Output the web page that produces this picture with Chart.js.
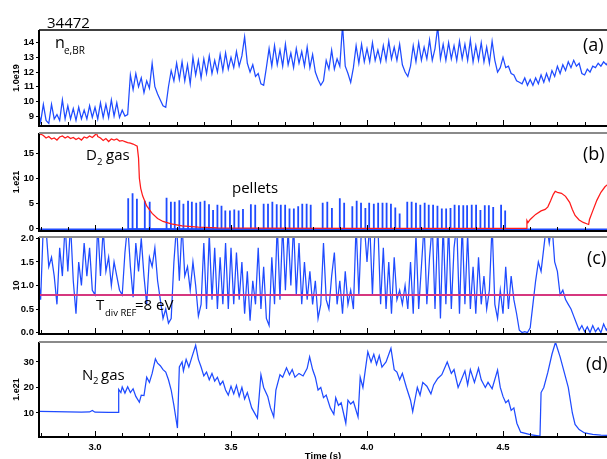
<!DOCTYPE html>
<html>
<head>
<meta charset="utf-8">
<script src="https://cdn.jsdelivr.net/npm/chart.js@4.4.1/dist/chart.umd.min.js"></script>
<style>
  body { margin: 0; background: #fff; width: 607px; height: 459px; overflow: hidden; position: relative; font-family: 'Open Sans', sans-serif; }
  canvas { position: absolute; left: 0; }
  .t { position: absolute; white-space: nowrap; line-height: 1; color: #000; }
</style>
</head>
<body>
<canvas id="pa" width="607" height="114" style="top:20px"></canvas>
<canvas id="pb" width="607" height="114" style="top:125px"></canvas>
<canvas id="pc" width="607" height="113" style="top:229px"></canvas>
<canvas id="pd" width="607" height="127" style="top:334px"></canvas>

<!-- annotations; top = baseline - 0.89 * size -->
<div class="t" style="left:47px;top:15px;font-size:15px">34472</div>
<div class="t" style="left:55px;top:34px;font-size:16px">n</div>
<div class="t" style="left:64px;top:45px;font-size:10px">e,BR</div>
<div class="t" style="left:583px;top:35px;font-size:18px">(a)</div>
<div class="t" style="left:583px;top:144px;font-size:18px">(b)</div>
<div class="t" style="left:587px;top:248px;font-size:18px">(c)</div>
<div class="t" style="left:586px;top:354px;font-size:18px">(d)</div>
<div class="t" style="left:86px;top:147px;font-size:15px">D</div>
<div class="t" style="left:97px;top:157px;font-size:9.5px">2</div>
<div class="t" style="left:106px;top:147px;font-size:15px">gas</div>
<div class="t" style="left:232px;top:180px;font-size:15px">pellets</div>
<div class="t" style="left:96px;top:297px;font-size:15px">T</div>
<div class="t" style="left:105px;top:308px;font-size:9.5px">div REF</div>
<div class="t" style="left:135px;top:297px;font-size:15px">=8 eV</div>
<div class="t" style="left:82px;top:367px;font-size:15px">N</div>
<div class="t" style="left:93px;top:376px;font-size:9.5px">2</div>
<div class="t" style="left:101px;top:367px;font-size:15px">gas</div>

<script>
// ---- data ----
// time axis
const xMin = 2.794, xMax = 4.8824;
const xMinor = [2.8, 2.9, 3.0, 3.1, 3.2, 3.3, 3.4, 3.5, 3.6, 3.7, 3.8, 3.9, 4.0, 4.1, 4.2, 4.3, 4.4, 4.5, 4.6, 4.7, 4.8];
const xLabels = [3.0, 3.5, 4.0, 4.5];
const xTitle = 'Time (s)';

// sampled signals (a) and (c): one value every 10 ms from 2.79 s
const sampleStart = 2.79, sampleStep = 0.01;

// (a) line averaged density, 1e19 m^-3
const neBR = [
  9.4, 8.6, 9.8, 8.7, 8.5, 9.8, 8.8, 9.1, 8.7, 10.1,
  8.8, 9.7, 8.8, 9.5, 8.7, 9.6, 8.8, 9.4, 8.8, 9.7,
  8.9, 9.6, 8.8, 9.9, 8.9, 9.8, 8.9, 10.1, 9.0, 9.9,
  8.9, 9.4, 9.0, 9.1, 11.8, 10.8, 11.9, 11.0, 11.6, 10.6,
  11.4, 10.9, 12.6, 11.0, 10.5, 10.1, 9.7, 9.6, 11.0, 12.1,
  11.4, 12.6, 11.5, 12.7, 11.4, 12.5, 11.2, 13.0, 11.8, 12.8,
  11.6, 12.9, 11.9, 13.1, 11.9, 12.8, 12.0, 13.2, 12.1, 13.3,
  12.2, 13.0, 12.3, 13.4, 12.4, 13.1, 14.4, 12.6, 12.0, 12.5,
  11.7, 11.9, 11.2, 11.1, 12.3, 13.6, 12.4, 13.8, 12.5, 13.5,
  12.4, 13.9, 12.5, 13.3, 12.3, 13.6, 12.6, 13.4, 12.4, 13.7,
  12.3, 13.2, 12.0, 11.5, 11.1, 11.4, 12.8, 12.2, 13.5, 12.2,
  12.9, 12.4, 15.2, 12.4, 11.9, 11.3, 12.3, 13.8, 12.6, 13.9,
  12.7, 13.6, 12.7, 14.0, 12.8, 13.5, 12.7, 13.8, 12.8, 14.1,
  12.9, 13.7, 12.8, 13.9, 12.5, 12.0, 11.7, 12.4, 13.8, 12.7,
  14.0, 12.8, 13.7, 12.9, 14.2, 12.8, 13.6, 15.1, 12.9, 13.9,
  12.8, 14.0, 12.9, 13.8, 12.8, 14.1, 12.9, 13.9, 12.8, 14.2,
  12.7, 13.8, 12.8, 14.0, 12.7, 13.7, 12.6, 14.1, 12.8, 12.0,
  12.3, 13.0, 12.3, 12.4, 11.9, 11.8, 11.4, 11.3, 11.2, 11.6,
  11.1, 11.5, 11.1, 11.6, 11.2, 11.8, 11.3, 11.9, 11.4, 12.1,
  11.7, 12.4, 11.9, 12.5, 12.1, 12.7, 12.3, 12.8, 12.4, 12.6,
  11.9, 11.8, 12.2, 12.0, 12.4, 12.3, 12.6, 12.4, 12.7, 12.5,
  12.8
];

// (b) D2 gas puff, 1e21 el/s
const gasT = [2.79, 2.80, 2.81, 2.82, 2.83, 2.84, 2.85, 2.86, 2.87, 2.88, 2.89, 2.90, 2.91, 2.92, 2.93, 2.94, 2.95, 2.96, 2.97, 2.98, 2.99, 3.00, 3.005, 3.01, 3.02, 3.03, 3.04, 3.05, 3.06, 3.07, 3.08, 3.09, 3.10, 3.11, 3.12, 3.13, 3.14, 3.155, 3.16, 3.163, 3.168, 3.175, 3.19, 3.21, 3.23, 3.25, 3.28, 3.32, 3.38, 3.45, 3.6, 4.0, 4.585, 4.588, 4.592, 4.60, 4.62, 4.64, 4.655, 4.665, 4.675, 4.685, 4.692, 4.70, 4.715, 4.73, 4.745, 4.755, 4.765, 4.78, 4.795, 4.81, 4.815, 4.818, 4.83, 4.845, 4.86, 4.875, 4.89];
const gasV = [18.3, 18.8, 18.5, 18.0, 18.3, 17.8, 18.0, 17.6, 18.2, 18.4, 18.0, 18.3, 17.9, 18.1, 17.7, 18.0, 17.6, 18.2, 18.0, 18.4, 18.1, 18.6, 19.0, 18.3, 18.0, 17.5, 17.9, 17.3, 17.8, 17.6, 17.8, 17.4, 17.5, 17.3, 17.1, 17.0, 16.8, 16.4, 14.0, 10.0, 8.0, 6.5, 4.5, 3.0, 2.0, 1.4, 0.9, 0.5, 0.25, 0.1, 0.05, 0.0, 0.0, 1.6, 1.2, 1.8, 2.8, 3.5, 3.8, 4.3, 5.5, 6.8, 7.4, 7.2, 7.0, 6.4, 5.2, 3.8, 2.6, 1.7, 1.2, 0.9, 0.8, 1.8, 3.5, 5.6, 7.2, 8.3, 9.0];

// (b) pellet signal
const pelletT = [3.122, 3.138, 3.154, 3.183, 3.201, 3.263, 3.279, 3.293, 3.310, 3.325, 3.342, 3.356, 3.372, 3.387, 3.403, 3.419, 3.434, 3.450, 3.465, 3.479, 3.496, 3.512, 3.528, 3.544, 3.573, 3.589, 3.620, 3.636, 3.652, 3.668, 3.683, 3.699, 3.715, 3.731, 3.747, 3.762, 3.778, 3.793, 3.837, 3.854, 3.871, 3.900, 3.916, 3.946, 3.962, 3.978, 3.994, 4.008, 4.025, 4.041, 4.057, 4.072, 4.088, 4.104, 4.120, 4.148, 4.164, 4.180, 4.196, 4.212, 4.227, 4.243, 4.259, 4.275, 4.291, 4.307, 4.322, 4.338, 4.354, 4.368, 4.385, 4.401, 4.417, 4.433, 4.448, 4.464, 4.493, 4.508];
const pelletH = [6.0, 7.0, 5.9, 5.5, 5.3, 6.1, 5.3, 5.3, 5.6, 4.9, 5.5, 5.3, 5.1, 5.3, 5.5, 4.8, 3.7, 4.7, 4.5, 3.6, 3.6, 3.8, 3.6, 3.9, 4.8, 4.7, 4.9, 4.9, 5.3, 4.8, 4.7, 4.7, 4.0, 4.0, 4.4, 4.9, 4.9, 4.7, 5.1, 5.3, 4.1, 6.0, 5.1, 4.4, 5.5, 5.1, 4.1, 5.1, 4.9, 5.1, 5.1, 5.1, 4.9, 4.2, 3.0, 5.3, 5.3, 5.1, 4.7, 5.1, 4.7, 4.7, 4.5, 4.0, 4.0, 4.1, 4.7, 4.6, 4.6, 4.6, 4.7, 4.7, 3.7, 4.6, 4.6, 4.3, 4.7, 3.6];
const pelletBase = -0.15;

// (c) divertor temperature, 10 eV
const tDiv = [
  1.3, 0.7, 2.3, 2.2, 1.4, 1.6, 1.2, 0.6, 1.8, 1.2,
  2.3, 1.3, 2.3, 1.1, 0.4, 1.5, 1.0, 1.9, 1.2, 1.8,
  0.9, 0.8, 2.3, 1.2, 2.2, 1.3, 1.6, 1.0, 1.5, 1.2,
  0.9, 0.8, 1.7, 2.3, 1.4, 0.75, 1.9, 1.3, 2.0, 1.2,
  0.6, 1.6, 1.4, 1.8, 1.1, 0.7, 0.3, 0.5, 0.2, 0.3,
  1.5, 2.3, 1.1, 2.3, 1.2, 1.4, 0.9, 1.5, 1.0, 0.35,
  0.6, 1.9, 0.5, 2.1, 0.7, 1.8, 0.5, 1.6, 0.6, 1.9,
  0.5, 1.8, 0.6, 1.7, 0.7, 1.5, 0.4, 1.3, 0.25, 1.1,
  0.6, 1.8, 0.5, 1.4, 0.3, 0.15, 1.6, 0.6, 2.3, 0.7,
  2.3, 0.9, 2.2, 1.0, 2.3, 0.8, 1.9, 0.6, 1.5, 0.7,
  1.3, 0.6, 1.1, 0.3, 0.6, 1.9, 0.7, 0.5, 1.2, 1.7,
  0.6, 1.1, 0.4, 1.3, 0.6, 0.9, 0.5, 2.3, 0.8, 2.3,
  2.3, 1.5, 2.3, 0.8, 2.3, 2.3, 0.6, 1.8, 0.5, 1.5,
  0.4, 1.6, 0.7, 0.9, 0.6, 1.0, 0.5, 1.5, 0.4, 2.1,
  0.5, 1.4, 2.3, 0.6, 1.6, 2.3, 0.5, 2.3, 0.3, 2.3,
  0.6, 2.3, 0.5, 1.8, 2.3, 0.4, 2.3, 0.6, 2.1, 0.5,
  1.4, 0.4, 1.6, 0.6, 1.2, 0.5, 0.9, 2.3, 0.6, 0.3,
  0.9, 0.4, 1.4, 0.5, 1.2, 0.7, 0.4, 0.05, 0.0, 0.02,
  0.0, 0.1, 0.6, 1.1, 1.5, 1.3, 1.8, 2.3, 1.9, 2.3,
  1.5, 1.3, 0.8, 0.9, 0.7, 0.6, 0.5, 0.35, 0.2, 0.05,
  0.15, 0.02, 0.12, 0.0, 0.15, 0.02, 0.1, 0.0, 0.18, 0.05,
  0.15
];
const tDivRef = 0.8;

// (d) N2 gas puff, 1e21 el/s
const n2T = [2.79, 2.85, 2.90, 2.95, 2.98, 2.99, 3.00, 3.05, 3.085, 3.087, 3.095, 3.10, 3.11, 3.12, 3.13, 3.14, 3.15, 3.163, 3.17, 3.18, 3.19, 3.20, 3.21, 3.222, 3.23, 3.24, 3.25, 3.26, 3.27, 3.28, 3.29, 3.303, 3.31, 3.32, 3.325, 3.335, 3.345, 3.355, 3.37, 3.38, 3.39, 3.40, 3.41, 3.42, 3.43, 3.44, 3.45, 3.46, 3.47, 3.48, 3.49, 3.50, 3.51, 3.52, 3.53, 3.54, 3.55, 3.56, 3.576, 3.597, 3.61, 3.62, 3.635, 3.645, 3.657, 3.665, 3.68, 3.69, 3.704, 3.715, 3.725, 3.735, 3.75, 3.765, 3.78, 3.789, 3.80, 3.81, 3.82, 3.83, 3.84, 3.85, 3.865, 3.878, 3.885, 3.895, 3.905, 3.922, 3.93, 3.94, 3.95, 3.967, 3.975, 3.985, 4.003, 4.015, 4.025, 4.035, 4.045, 4.055, 4.07, 4.088, 4.10, 4.11, 4.12, 4.13, 4.145, 4.16, 4.168, 4.175, 4.185, 4.195, 4.205, 4.22, 4.235, 4.245, 4.26, 4.275, 4.295, 4.31, 4.32, 4.335, 4.345, 4.36, 4.37, 4.38, 4.395, 4.41, 4.42, 4.435, 4.445, 4.46, 4.48, 4.49, 4.50, 4.51, 4.52, 4.53, 4.54, 4.551, 4.565, 4.60, 4.636, 4.64, 4.65, 4.665, 4.68, 4.693, 4.71, 4.725, 4.74, 4.755, 4.765, 4.78, 4.80, 4.83, 4.86, 4.89];
const n2V = [10.6, 10.5, 10.4, 10.3, 10.4, 11.0, 10.3, 10.2, 10.2, 19.2, 18.0, 20.2, 17.8, 20.3, 18.0, 19.5, 16.5, 14.2, 17.0, 16.8, 24.0, 22.0, 25.5, 31.2, 29.5, 28.5, 27.0, 26.0, 23.0, 19.0, 13.0, 4.1, 28.0, 30.0, 26.5, 31.0, 28.0, 31.5, 36.5, 31.0, 28.0, 24.5, 26.0, 23.0, 25.5, 22.5, 24.0, 21.0, 22.5, 19.0, 17.0, 20.5, 17.5, 20.8, 16.5, 20.0, 15.5, 18.0, 12.0, 8.0, 25.0, 20.0, 16.5, 12.0, 8.5, 19.0, 25.0, 24.0, 27.7, 25.0, 27.0, 24.0, 25.5, 24.5, 27.5, 32.0, 27.0, 24.0, 19.0, 20.0, 16.0, 17.0, 12.0, 9.5, 16.0, 13.0, 14.0, 6.0, 15.0, 13.5, 14.5, 8.5, 24.0, 20.0, 34.0, 30.0, 33.0, 29.0, 32.5, 28.0, 30.0, 35.3, 27.0, 26.0, 23.0, 25.5, 20.0, 15.0, 10.5, 14.5, 20.0, 17.0, 22.0, 20.5, 17.5, 21.0, 23.5, 25.0, 30.0, 25.5, 27.0, 20.0, 22.5, 26.5, 21.0, 27.0, 22.0, 27.5, 23.0, 20.0, 22.0, 19.5, 26.8, 20.0, 16.5, 14.0, 15.0, 11.0, 12.0, 6.0, 2.5, 1.5, 0.9, 18.0, 20.0, 26.0, 33.0, 37.7, 32.0, 26.0, 20.0, 10.0, 5.5, 3.5, 2.2, 1.6, 1.3, 1.2];

// y tick labels of each panel
const aTicks = [9, 10, 11, 12, 13, 14];
const bTicks = [0, 5, 10, 15];
const cTicks = [0.0, 0.5, 1.0, 1.5, 2.0];
const dTicks = [10, 20, 30];

// ---- drawing ----
Chart.defaults.font.family = "'Liberation Sans', Arial, sans-serif";
Chart.defaults.color = '#000';
const blue = '#1f4bff', red = '#ff1a1a', magenta = '#d6377f';
const axisFont = 'bold 9.5px "Liberation Sans", Arial, sans-serif';

const sampled = vals => vals.map((v, i) => ({ x: sampleStart + i * sampleStep, y: v }));
const paired = (ts, vs) => ts.map((t, i) => ({ x: t, y: vs[i] }));
// each pellet is a vertical stroke from the base line up to its height
const spikes = (ts, hs, base) => ts.flatMap((t, i) => [{ x: t, y: base }, { x: t, y: hs[i] }, { x: t, y: base }]);

// frame with inward time ticks, and time labels on the bottom panel
const framePlugin = {
  id: 'frame',
  afterDatasetsDraw(chart, args, opts) {
    const { ctx, chartArea: a, scales: { x } } = chart;
    ctx.save();
    ctx.strokeStyle = '#000';
    ctx.lineWidth = 1;
    ctx.beginPath();
    xMinor.forEach(v => {
      const px = Math.round(x.getPixelForValue(v)) + 0.5;
      const len = xLabels.some(l => Math.abs(l - v) < 1e-6) ? 6 : 4;
      ctx.moveTo(px, a.bottom);
      ctx.lineTo(px, a.bottom - len);
    });
    ctx.stroke();
    ctx.lineWidth = 2;
    ctx.beginPath();
    ctx.moveTo(a.left, a.top);
    ctx.lineTo(a.left, a.bottom);
    ctx.lineTo(a.right, a.bottom);
    ctx.stroke();
    ctx.strokeStyle = opts.topColor;
    ctx.lineWidth = opts.topWidth;
    ctx.beginPath();
    ctx.moveTo(a.left, a.top);
    ctx.lineTo(a.right, a.top);
    ctx.stroke();
    if (opts.timeLabels) {
      ctx.fillStyle = '#000';
      ctx.font = axisFont;
      ctx.textAlign = 'center';
      ctx.textBaseline = 'middle';
      xLabels.forEach(v => ctx.fillText(v.toFixed(1), x.getPixelForValue(v), a.bottom + 10));
      ctx.fillText(xTitle, (a.left + a.right) / 2, a.bottom + 19);
    }
    ctx.restore();
  }
};

function yScale(min, max, ticks, title, fmt) {
  return {
    min, max,
    afterFit: s => { s.width = 39; s.paddingTop = 0; s.paddingBottom = 0; },
    afterBuildTicks: s => { s.ticks = ticks.map(v => ({ value: v })); },
    ticks: { font: { size: 9.5, weight: 'bold' }, padding: 2, callback: fmt },
    grid: { drawOnChartArea: false, tickLength: 3, color: '#000' },
    border: { display: false },
    title: { display: true, text: title, font: { size: 9, weight: 'bold' }, padding: { top: 11, bottom: 0 } }
  };
}

function panel(id, datasets, y, timeLabels, topColor, topWidth, pad) {
  return new Chart(document.getElementById(id), {
    type: 'line',
    data: { datasets },
    options: {
      responsive: false, animation: false,
      layout: { padding: pad },
      elements: { point: { radius: 0 }, line: { tension: 0, borderWidth: 1.25 } },
      plugins: { legend: { display: false }, tooltip: { enabled: false }, frame: { topColor, topWidth, timeLabels } },
      scales: { x: { type: 'linear', min: xMin, max: xMax, display: false }, y }
    },
    plugins: [framePlugin]
  });
}

panel('pa',
  [{ data: sampled(neBR), borderColor: blue }],
  yScale(8.32, 14.87, aTicks, '1.0e19', v => String(v)),
  false, '#000', 1.5, { top: 10, bottom: 8, left: 0, right: 0 });

panel('pb',
  [
    { data: paired(gasT, gasV), borderColor: red },
    { data: spikes(pelletT, pelletH, pelletBase), borderColor: blue, borderWidth: 1.8 },
    { data: paired([xMin, xMax], [pelletBase, pelletBase]), borderColor: blue, borderWidth: 1.5 }
  ],
  yScale(-0.5, 19.0, bTicks, '1.e21', v => String(v)),
  false, '#8a8a8a', 2, { top: 8, bottom: 8, left: 0, right: 0 });

panel('pc',
  [
    { data: paired([xMin, xMax], [tDivRef, tDivRef]), borderColor: magenta, borderWidth: 2 },
    { data: sampled(tDiv), borderColor: blue }
  ],
  yScale(-0.03, 2.03, cTicks, '10', v => v.toFixed(1)),
  false, '#8a8a8a', 2, { top: 8, bottom: 8, left: 0, right: 0 });

panel('pd',
  [{ data: paired(n2T, n2V), borderColor: blue }],
  yScale(0.6, 37.8, dTicks, '1.e21', v => String(v)),
  true, '#8a8a8a', 2, { top: 8, bottom: 24, left: 0, right: 0 });
</script>
</body>
</html>
